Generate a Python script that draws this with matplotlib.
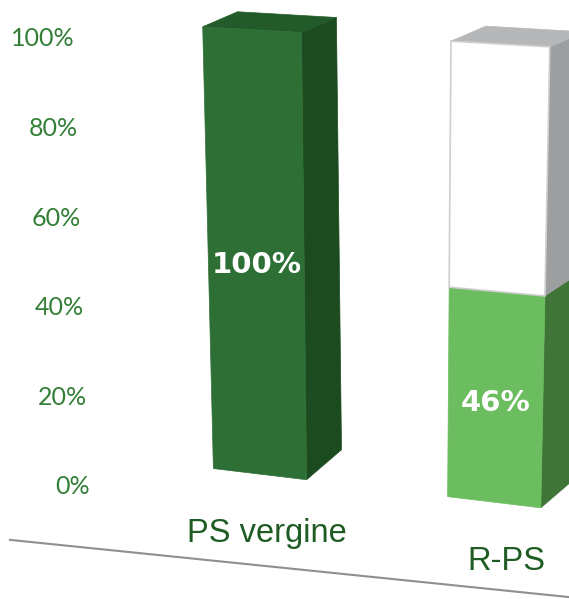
import numpy as np
import matplotlib.pyplot as plt
from matplotlib.patches import Polygon

# data
categories = ['PS vergine', 'R-PS']
green_share = [100, 46]
white_share = [0, 54]
bar_labels = ['100%', '46%']
tick_values = [0, 20, 40, 60, 80, 100]
tick_labels = ['0%', '20%', '40%', '60%', '80%', '100%']

# colours per category: front, side, top
green_cols = [('#2E6F36', '#1B4B1F', '#225A29'),
              ('#6CBD5F', '#3F7638', '#5AA54F')]
white_cols = ('#FFFFFF', '#9C9EA0', '#B5B7B9')

W, H = 569, 599
PX_X = 239.0   # pixels per category step
PX_Y = 4.48    # pixels per percent
BAR_W = 0.39
DEPTH_X = 0.146


def floor_y(x):
    return 2.87 - 6.40 * x


def roof_y(x):
    return 101.99 - 3.09 * x


def front(c, u, v):
    xb = c * 0.98 + u * BAR_W
    x = xb + 0.06 * (xb - 0.55) * v / 100.0
    y = floor_y(x) + v / 100.0 * (roof_y(x) - floor_y(x))
    return x, y


def back(c, u, v):
    x, y = front(c, u, v)
    return x + DEPTH_X, y + 6.7 - 3.35 * v / 100.0


def draw_segment(ax, c, v0, v1, cols, top, edge=None):
    fc, sc, tc = cols
    side = [front(c, .5, v0), back(c, .5, v0), back(c, .5, v1), front(c, .5, v1)]
    ax.add_patch(Polygon(side, closed=True, facecolor=sc, edgecolor=sc, lw=0.5))
    face = [front(c, -.5, v0), front(c, .5, v0), front(c, .5, v1), front(c, -.5, v1)]
    if edge:
        ax.add_patch(Polygon(face, closed=True, facecolor=fc, edgecolor=edge, lw=1.2, zorder=3))
    else:
        ax.add_patch(Polygon(face, closed=True, facecolor=fc, edgecolor=fc, lw=0.5, zorder=3))
    if top:
        lid = [front(c, -.5, v1), front(c, .5, v1), back(c, .5, v1), back(c, -.5, v1)]
        ax.add_patch(Polygon(lid, closed=True, facecolor=tc, edgecolor=tc, lw=0.5, zorder=2))


fig = plt.figure(figsize=(W / 100, H / 100), dpi=100)
ax = fig.add_axes([0, 0, 1, 1])
ax.set_xlim(-260 / PX_X, (W - 260) / PX_X)
ax.set_ylim(-(H - 487) / PX_Y, 487 / PX_Y)
ax.axis('off')

for c in range(len(categories)):
    g = green_share[c]
    w = white_share[c]
    draw_segment(ax, c, 0, g, green_cols[c], top=(w == 0))
    if w > 0:
        draw_segment(ax, c, g, g + w, white_cols, top=True, edge='#CFCFCF')
    lx, ly = front(c, 0, g * 0.47)
    ax.text(lx, ly, bar_labels[c], color='white', fontsize=21, fontweight='bold',
            family='DejaVu Sans', ha='center', va='center', zorder=5)
    # category label
    ax.text(c + 0.03, floor_y(c) - 13.2, categories[c], color='#1E5C24', fontsize=23.5,
            family='Liberation Sans', ha='center', va='center')

# y tick labels (drift right going down)
for v, t in zip(tick_values, tick_labels):
    xr = (75 + 0.15 * (100 - v) - 260) / PX_X
    ax.text(xr, v, t, color='#337F36', fontsize=18, family='Lato', ha='right', va='center')

# slanted base line
xs = np.array([(10 - 260) / PX_X, (W - 260) / PX_X])
ax.plot(xs, -11.8 - 5.46 * (xs + 1.046), color='#8F8F8F', lw=1.5)

fig.savefig('out.png', dpi=100, facecolor='white')
